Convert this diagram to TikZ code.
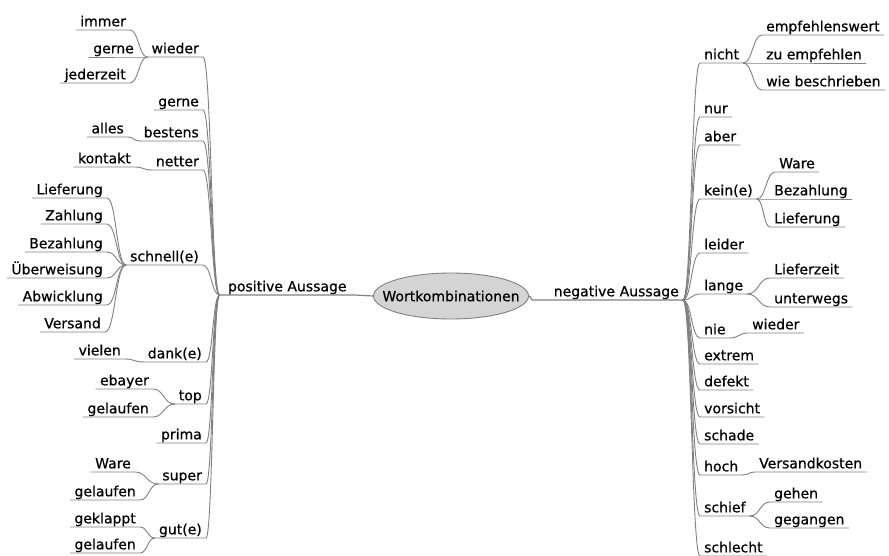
\documentclass[tikz,border=0pt]{standalone}
\usepackage{fontspec}
\setmainfont{DejaVu Sans}[FakeBold=0.6]
\usetikzlibrary{calc,shapes.geometric}
\tikzset{
    wort/.style={inner xsep=4pt, inner ysep=1pt, text height=10pt, text depth=2.5pt, font=\fontsize{14}{16}\selectfont},
    lw/.style={wort, anchor=south east},
    rw/.style={wort, anchor=south west},
    ast/.style={draw=black!50, line width=0.9pt, line cap=round},
    curvy/.style={to path={.. controls ($(\tikztostart)!0.5!(\tikztotarget|-\tikztostart)$) and ($(\tikztotarget)!0.5!(\tikztostart|-\tikztotarget)$) .. (\tikztotarget)}}
}

\begin{document}
\begin{tikzpicture}[x=1pt, y=-1pt]
    \useasboundingbox (0,0) rectangle (889,555);
    % Mitte
    \node[ellipse, draw=black!50, fill=black!17, line width=0.9pt, inner sep=0pt, minimum width=155pt, minimum height=46pt, font=\fontsize{14}{16}\selectfont] (root) at (451,296) {\makebox[0pt]{Wortkombinationen}};
    \node[lw, minimum width=135pt] (pos) at (355,295) {positive Aussage};
    \node[wort, anchor=south east, text width=142pt, align=right] (neg) at (683,300) {negative Aussage};
    \draw[ast, line width=1.2pt] (root.west) to[curvy] (pos.south east) -- (pos.south west);
    \draw[ast, line width=1.2pt] (root.east) to[curvy] (neg.south west) -- (neg.south east);
    % positive Seite
    \node[lw] (wieder) at (203,57) {wieder};
    \node[lw] (gerne) at (203,110) {gerne};
    \node[lw] (bestens) at (203,141) {bestens};
    \node[lw] (netter) at (203,170) {netter};
    \node[lw] (schnell) at (203,265) {schnell(e)};
    \node[lw] (dank) at (206,362) {dank(e)};
    \node[lw] (top) at (206,404) {top};
    \node[lw] (prima) at (206,443) {prima};
    \node[lw] (super) at (206,484) {super};
    \node[lw] (gut) at (206,538) {gut(e)};
    \node[lw] (immer) at (130,30) {immer};
    \node[lw] (gerneW) at (138,57) {gerne};
    \node[lw] (jederzeit) at (130,83) {jederzeit};
    \node[lw] (alles) at (128,137) {alles};
    \node[lw] (kontakt) at (135,167) {kontakt};
    \node[lw] (liefS) at (107,198) {Lieferung};
    \node[lw] (zahlung) at (107,224) {Zahlung};
    \node[lw] (bezS) at (107,252) {Bezahlung};
    \node[lw] (ueber) at (107,278) {Überweisung};
    \node[lw] (abw) at (107,305) {Abwicklung};
    \node[lw] (versand) at (105,332) {Versand};
    \node[lw] (vielen) at (125,359) {vielen};
    \node[lw] (ebayer) at (153,389) {ebayer};
    \node[lw] (gelT) at (153,417) {gelaufen};
    \node[lw] (wareS) at (135,472) {Ware};
    \node[lw] (gelS) at (140,500) {gelaufen};
    \node[lw] (geklappt) at (140,527) {geklappt};
    \node[lw] (gelG) at (140,553) {gelaufen};
    \foreach \n in {wieder,gerne,bestens,netter,schnell,dank,top,prima,super,gut}
    \draw[ast] (pos.south west) to[curvy] (\n.south east) -- (\n.south west);
    \foreach \p/\n in {wieder/immer,wieder/gerneW,wieder/jederzeit,bestens/alles,netter/kontakt,
        schnell/liefS,schnell/zahlung,schnell/bezS,schnell/ueber,schnell/abw,schnell/versand,
        dank/vielen,top/ebayer,top/gelT,super/wareS,super/gelS,gut/geklappt,gut/gelG}
    \draw[ast] (\p.south west) to[curvy] (\n.south east) -- (\n.south west);
    % negative Seite
    \node[rw] (nicht) at (700,63) {nicht};
    \node[rw] (nur) at (700,117) {nur};
    \node[rw] (aber) at (700,145) {aber};
    \node[rw] (keine) at (700,199) {kein(e)};
    \node[rw] (leider) at (700,253) {leider};
    \node[rw] (lange) at (700,294) {lange};
    \node[rw] (nie) at (700,338) {nie};
    \node[rw] (extrem) at (700,364) {extrem};
    \node[rw] (defekt) at (700,390) {defekt};
    \node[rw] (vorsicht) at (700,417) {vorsicht};
    \node[rw] (schade) at (700,444) {schade};
    \node[rw] (hoch) at (700,475) {hoch};
    \node[rw] (schief) at (700,516) {schief};
    \node[rw] (schlecht) at (700,556) {schlecht};
    \node[rw] (empf) at (762,35) {empfehlenswert};
    \node[rw] (zuempf) at (762,63) {zu empfehlen};
    \node[rw] (wiebes) at (762,90) {wie beschrieben};
    \node[rw] (wareK) at (775,172) {Ware};
    \node[rw] (bezK) at (770,199) {Bezahlung};
    \node[rw] (liefK) at (770,227) {Lieferung};
    \node[rw] (lieferzeit) at (770,278) {Lieferzeit};
    \node[rw] (unterwegs) at (770,307) {unterwegs};
    \node[rw] (wiederN) at (748,333) {wieder};
    \node[rw] (versandk) at (755,472) {Versandkosten};
    \node[rw] (gehen) at (770,502) {gehen};
    \node[rw] (gegangen) at (770,528) {gegangen};
    \foreach \n in {nicht,nur,aber,keine,leider,lange,nie,extrem,defekt,vorsicht,schade,hoch,schief,schlecht}
    \draw[ast] (neg.south east) to[curvy] (\n.south west) -- (\n.south east);
    \foreach \p/\n in {nicht/empf,nicht/zuempf,nicht/wiebes,keine/wareK,keine/bezK,keine/liefK,
        lange/lieferzeit,lange/unterwegs,nie/wiederN,hoch/versandk,schief/gehen,schief/gegangen}
    \draw[ast] (\p.south east) to[curvy] (\n.south west) -- (\n.south east);
\end{tikzpicture}
\end{document}
